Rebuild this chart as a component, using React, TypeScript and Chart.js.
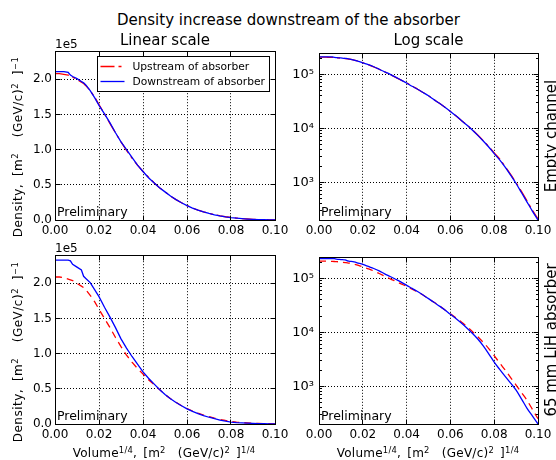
import React, { useEffect, useRef } from "react";
import { Chart, registerables } from "chart.js";
Chart.register(...registerables);

const FONT = "'DejaVu Sans', 'Liberation Sans', sans-serif";

// ---- texts ----
const FIG_TITLE = "Density increase downstream of the absorber";
const COL_TITLES = ["Linear scale", "Log scale"];
const ROW_TITLES = ["Empty channel", "65 mm LiH absorber"];
const SERIES_NAMES = ["Upstream of absorber", "Downstream of absorber"];
const ANNOTATION = "Preliminary";
const OFFSET_TEXT = "1e5";

// ---- data (density in units of 1e5) ----
const X_VALUES = [
  0, 0.002, 0.004, 0.006, 0.007, 0.008, 0.01, 0.012, 0.013, 0.014, 0.016, 0.018, 0.02,
  0.0225, 0.025, 0.0275, 0.03, 0.0325, 0.035, 0.0375, 0.04, 0.0425, 0.045, 0.0475, 0.05,
  0.0525, 0.055, 0.0575, 0.06, 0.0625, 0.065, 0.0675, 0.07, 0.0725, 0.075, 0.0775, 0.08,
  0.0825, 0.085, 0.0875, 0.09, 0.0925, 0.095, 0.0975, 0.1,
];
const EMPTY_UPSTREAM = [
  2.08, 2.08, 2.07, 2.06, 2.05, 2.03, 2.0, 1.96, 1.94, 1.91, 1.84, 1.75, 1.64,
  1.51, 1.37, 1.24, 1.11, 0.99, 0.88, 0.78, 0.69, 0.61, 0.53, 0.46, 0.4,
  0.34, 0.29, 0.245, 0.205, 0.17, 0.14, 0.116, 0.094, 0.075, 0.059, 0.046, 0.035,
  0.027, 0.0195, 0.014, 0.0098, 0.0067, 0.0045, 0.003, 0.0021,
];
const EMPTY_DOWNSTREAM = [
  2.11, 2.11, 2.11, 2.1, 2.06, 2.04, 2.01, 1.97, 1.95, 1.92, 1.84, 1.74, 1.63,
  1.51, 1.38, 1.24, 1.11, 1.0, 0.89, 0.78, 0.69, 0.6, 0.53, 0.46, 0.4,
  0.34, 0.29, 0.245, 0.205, 0.17, 0.14, 0.115, 0.093, 0.074, 0.058, 0.045, 0.034,
  0.026, 0.019, 0.0135, 0.0095, 0.0064, 0.0043, 0.0029, 0.002,
];
const LIH_UPSTREAM = [
  2.09, 2.09, 2.08, 2.06, 2.05, 2.04, 2.0, 1.96, 1.94, 1.91, 1.83, 1.74, 1.63,
  1.5, 1.37, 1.23, 1.1, 0.98, 0.88, 0.79, 0.71, 0.63, 0.56, 0.49, 0.42,
  0.36, 0.31, 0.26, 0.22, 0.185, 0.155, 0.128, 0.104, 0.083, 0.065, 0.05, 0.037,
  0.027, 0.02, 0.0145, 0.0105, 0.0076, 0.0055, 0.0037, 0.0025,
];
const LIH_DOWNSTREAM = [
  2.33, 2.33, 2.33, 2.33, 2.32, 2.27, 2.23, 2.19, 2.1, 2.07, 2.01, 1.91, 1.81,
  1.66, 1.52, 1.37, 1.21, 1.08, 0.96, 0.85, 0.74, 0.65, 0.57, 0.49, 0.42,
  0.36, 0.305, 0.26, 0.215, 0.18, 0.148, 0.12, 0.096, 0.075, 0.056, 0.04, 0.028,
  0.0205, 0.0152, 0.0114, 0.0085, 0.0058, 0.0039, 0.0028, 0.002,
];

// ---- axes ----
const X_TICKS = [0, 0.02, 0.04, 0.06, 0.08, 0.1];
const X_TICK_LABELS = ["0.00", "0.02", "0.04", "0.06", "0.08", "0.10"];
const LIN_Y_TICKS = [0, 0.5, 1.0, 1.5, 2.0];
const LIN_Y_TICK_LABELS = ["0.0", "0.5", "1.0", "1.5", "2.0"];
const LOG_Y_TICKS = [1e3, 1e4, 1e5];
const LOG_Y_TICK_LABELS = ["10\u00b3", "10\u2074", "10\u2075"];
const SCALE_FACTOR = 1e5;
const X_MIN = 0, X_MAX = 0.1;
const LIN_Y_MAX = 2.4;
const LOG_Y_MIN = 200, LOG_Y_MAX = 2.4e5;

const YW = 46, PT = 10, PR = 20, XH = 24;

const al = (v: number) => Math.round(v - 0.5) + 0.5;

const framePlugin = {
  id: "frameTicks",
  afterDraw(chart: any) {
    const { ctx, chartArea: a, scales } = chart;
    const xs = scales.x, ys = scales.y;
    const L = al(a.left), R = al(a.right), T = al(a.top), B = al(a.bottom);
    ctx.save();
    ctx.setLineDash([]);
    ctx.strokeStyle = "#000";
    ctx.lineWidth = 1;
    ctx.strokeRect(L, T, R - L, B - T);
    ctx.beginPath();
    for (const t of xs.ticks) {
      const px = al(xs.getPixelForValue(t.value));
      ctx.moveTo(px, B); ctx.lineTo(px, B - 5);
      ctx.moveTo(px, T); ctx.lineTo(px, T + 5);
    }
    for (const t of ys.ticks) {
      const py = al(ys.getPixelForValue(t.value));
      ctx.moveTo(L, py); ctx.lineTo(L + 5, py);
      ctx.moveTo(R, py); ctx.lineTo(R - 5, py);
    }
    if (ys.type === "logarithmic") {
      const e0 = Math.floor(Math.log10(ys.min));
      const e1 = Math.ceil(Math.log10(ys.max));
      for (let e = e0; e <= e1; e++) {
        for (let k = 2; k <= 9; k++) {
          const v = k * Math.pow(10, e);
          if (v <= ys.min || v >= ys.max) continue;
          const py = al(ys.getPixelForValue(v));
          ctx.moveTo(L, py); ctx.lineTo(L + 2.5, py);
          ctx.moveTo(R, py); ctx.lineTo(R - 2.5, py);
        }
      }
    }
    ctx.stroke();
    ctx.restore();
  },
};

const legendPlugin = {
  id: "boxLegend",
  afterDraw(chart: any, _args: any, opts: any) {
    if (!opts || !opts.show) return;
    const { ctx, chartArea: a } = chart;
    const bw = 172, bh = 35;
    const bx = Math.round(a.right - 6 - bw) + 0.5;
    const by = Math.round(a.top + 5) + 0.5;
    ctx.save();
    ctx.fillStyle = "#fff";
    ctx.fillRect(bx, by, bw, bh);
    ctx.strokeStyle = "#000";
    ctx.lineWidth = 1;
    ctx.setLineDash([]);
    ctx.strokeRect(bx, by, bw, bh);
    ctx.font = `10.7px ${FONT}`;
    ctx.textBaseline = "alphabetic";
    ctx.textAlign = "left";
    chart.data.datasets.forEach((ds: any, i: number) => {
      const ly = Math.round(by + 9 + 15 * i) + 0.5;
      ctx.strokeStyle = ds.borderColor;
      ctx.lineWidth = ds.borderWidth;
      ctx.setLineDash(ds.borderDash || []);
      ctx.beginPath();
      ctx.moveTo(bx + 3, ly);
      ctx.lineTo(bx + 27, ly);
      ctx.stroke();
      ctx.setLineDash([]);
      ctx.fillStyle = "#000";
      ctx.fillText(ds.label, bx + 35, ly + 3.5);
    });
    ctx.restore();
  },
};

type PanelProps = {
  x: number; y: number; w: number; h: number;
  log: boolean; up: number[]; down: number[]; upDash: number[]; legend: boolean;
};

function Panel(p: PanelProps) {
  const ref = useRef<HTMLCanvasElement>(null);
  const cw = YW + p.w + PR;
  const ch = PT + p.h + XH;
  useEffect(() => {
    const toData = (arr: number[]) =>
      arr.map((v, i) => ({ x: X_VALUES[i], y: p.log ? v * SCALE_FACTOR : v }));
    const tickFont = { family: FONT, size: 12 };
    const yTicks = p.log ? LOG_Y_TICKS : LIN_Y_TICKS;
    const yLabels = p.log ? LOG_Y_TICK_LABELS : LIN_Y_TICK_LABELS;
    const interp = p.log ? "monotone" : "default";
    const chart = new Chart(ref.current as HTMLCanvasElement, {
      type: "line",
      data: {
        datasets: [
          {
            label: SERIES_NAMES[0],
            data: toData(p.up),
            borderColor: "#ff0000",
            borderWidth: 1.3,
            borderDash: p.upDash,
            pointRadius: 0,
            fill: false,
            tension: 0,
            cubicInterpolationMode: interp,
            order: 2,
          },
          {
            label: SERIES_NAMES[1],
            data: toData(p.down),
            borderColor: "#0000ff",
            borderWidth: 1.3,
            pointRadius: 0,
            fill: false,
            tension: 0,
            cubicInterpolationMode: interp,
            order: 1,
          },
        ],
      } as any,
      options: {
        animation: false,
        responsive: false,
        devicePixelRatio: 1,
        events: [],
        layout: { padding: { left: 0, top: PT, right: PR, bottom: 0 } },
        plugins: {
          legend: { display: false },
          tooltip: { enabled: false },
          boxLegend: { show: p.legend },
        } as any,
        scales: {
          x: {
            type: "linear",
            min: X_MIN,
            max: X_MAX,
            afterBuildTicks: (s: any) => { s.ticks = X_TICKS.map((v) => ({ value: v })); },
            afterFit: (s: any) => { s.height = XH; },
            ticks: {
              autoSkip: false,
              maxRotation: 0,
              padding: 4,
              color: "#000",
              font: tickFont,
              callback: (v: any) => X_TICK_LABELS[X_TICKS.indexOf(Number(v))] ?? "",
            },
            grid: { color: "#000", lineWidth: 1, drawTicks: false },
            border: { display: false, dash: [1, 2] },
          },
          y: {
            type: p.log ? "logarithmic" : "linear",
            min: p.log ? LOG_Y_MIN : 0,
            max: p.log ? LOG_Y_MAX : LIN_Y_MAX,
            afterBuildTicks: (s: any) => { s.ticks = yTicks.map((v) => ({ value: v })); },
            afterFit: (s: any) => { s.width = YW; },
            ticks: {
              autoSkip: false,
              padding: p.log ? 5 : 3,
              color: "#000",
              font: { family: FONT, size: p.log ? 13 : 12 },
              callback: (v: any) => yLabels[yTicks.indexOf(Number(v))] ?? "",
            },
            grid: { color: "#000", lineWidth: 1, drawTicks: false },
            border: { display: false, dash: [1, 2] },
          },
        } as any,
      },
      plugins: [framePlugin, legendPlugin],
    });
    return () => chart.destroy();
  }, []);
  return (
    <canvas
      ref={ref}
      width={cw}
      height={ch}
      style={{ position: "absolute", left: p.x - YW, top: p.y - PT, width: cw, height: ch }}
    />
  );
}

const Sup = ({ children }: { children: any }) => (
  <span style={{ fontSize: "0.7em", position: "relative", top: "-0.5em" }}>{children}</span>
);

function HText(props: { cx?: number; left?: number; baseline: number; size: number; extra?: any; children: any }) {
  const { cx, left, baseline, size, children, extra } = props;
  const top = baseline - 0.846 * size;
  const style: any = {
    position: "absolute", top, fontFamily: FONT, fontSize: size, lineHeight: 1,
    whiteSpace: "pre", color: "#000", ...(extra || {}),
  };
  if (cx !== undefined) {
    style.left = cx - 300; style.width = 600; style.textAlign = "center";
  } else {
    style.left = left;
  }
  return <div style={style}>{children}</div>;
}

function VText(props: { cx: number; cy: number; size: number; extra?: any; children: any }) {
  const { cx, cy, size, children, extra } = props;
  return (
    <div
      style={{
        position: "absolute", left: cx, top: cy, fontFamily: FONT, fontSize: size, lineHeight: 1,
        whiteSpace: "pre", color: "#000", transform: "translate(-50%, -50%) rotate(-90deg)",
        ...(extra || {}),
      }}
    >
      {children}
    </div>
  );
}

const YLabel = () => (
  <>Density, [m<Sup>2</Sup>  (GeV/c)<Sup>2</Sup> ]<Sup>{"\u22121"}</Sup></>
);
const XLabel = () => (
  <>Volume<Sup>1/4</Sup>, [m<Sup>2</Sup>  (GeV/c)<Sup>2</Sup> ]<Sup>1/4</Sup></>
);

const Y_LABEL_STYLE = { wordSpacing: "3.5px", letterSpacing: "0.5px" };
const X_LABEL_STYLE = { wordSpacing: "2px", letterSpacing: "0.25px" };

export default function App() {
  const W = 220, H = 169;
  const cols = [55, 319];
  const rows = [51, 255];
  return (
    <div
      style={{
        position: "absolute", left: 0, top: 0, width: 556, height: 460,
        background: "#fff", overflow: "hidden",
      }}
    >
      <Panel x={cols[0]} y={rows[0]} w={W} h={H} log={false} up={EMPTY_UPSTREAM} down={EMPTY_DOWNSTREAM} upDash={[14, 4, 3, 4]} legend={true} />
      <Panel x={cols[1]} y={rows[0]} w={W - 1} h={H} log={true} up={EMPTY_UPSTREAM} down={EMPTY_DOWNSTREAM} upDash={[14, 4, 3, 4]} legend={false} />
      <Panel x={cols[0]} y={rows[1]} w={W} h={H} log={false} up={LIH_UPSTREAM} down={LIH_DOWNSTREAM} upDash={[7, 5]} legend={false} />
      <Panel x={cols[1]} y={rows[1]} w={W - 1} h={H} log={true} up={LIH_UPSTREAM} down={LIH_DOWNSTREAM} upDash={[7, 5]} legend={false} />

      <HText cx={288.5} baseline={26} size={15}>{FIG_TITLE}</HText>
      <HText cx={165} baseline={45.5} size={15}>{COL_TITLES[0]}</HText>
      <HText cx={428.5} baseline={45.5} size={15}>{COL_TITLES[1]}</HText>

      <HText left={55} baseline={48} size={12}>{OFFSET_TEXT}</HText>
      <HText left={55} baseline={252.5} size={12}>{OFFSET_TEXT}</HText>

      <HText left={57} baseline={216.5} size={12.5}>{ANNOTATION}</HText>
      <HText left={321} baseline={216.5} size={12.5}>{ANNOTATION}</HText>
      <HText left={57} baseline={420.5} size={12.5}>{ANNOTATION}</HText>
      <HText left={321} baseline={420.5} size={12.5}>{ANNOTATION}</HText>

      <VText cx={17.8} cy={147} size={12} extra={Y_LABEL_STYLE}><YLabel /></VText>
      <VText cx={17.8} cy={352} size={12} extra={Y_LABEL_STYLE}><YLabel /></VText>

      <HText cx={164} baseline={457} size={12} extra={X_LABEL_STYLE}><XLabel /></HText>
      <HText cx={428} baseline={457} size={12} extra={X_LABEL_STYLE}><XLabel /></HText>

      <VText cx={551.3} cy={135.5} size={15}>{ROW_TITLES[0]}</VText>
      <VText cx={551.3} cy={339.5} size={15}>{ROW_TITLES[1]}</VText>
    </div>
  );
}
